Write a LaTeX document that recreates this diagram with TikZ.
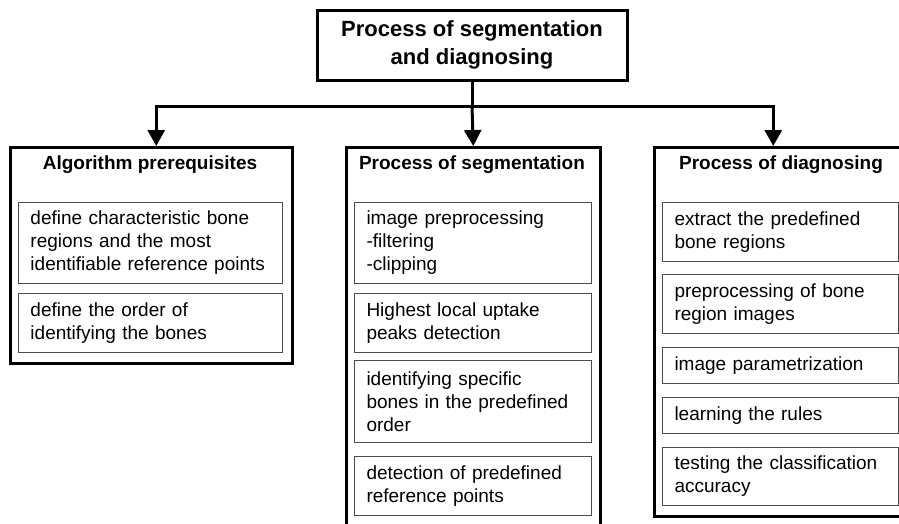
\documentclass[tikz,border=0pt]{standalone}
\usepackage{fontspec}
\setmainfont{Liberation Sans}
\usetikzlibrary{arrows.meta}
\newcommand{\Head}[1]{{\fontsize{19}{23}\selectfont\bfseries #1}}

\begin{document}
\begin{tikzpicture}[>={Triangle[width=17pt,length=16pt]}, x=1pt, y=-1pt,
  topbox/.style={draw, line width=3pt, minimum width=310pt, minimum height=70pt, align=center, font=\fontsize{22}{28}\selectfont\bfseries},
  panel/.style={draw, line width=2.5pt, anchor=north west, inner sep=0pt},
  itembox/.style={draw=black!70, line width=1pt, anchor=north west, align=left, inner xsep=12pt, inner ysep=0pt, font=\fontsize{19}{23}\selectfont},
  flow/.style={line width=3pt}]

\useasboundingbox (0,0) rectangle (899,523);
\clip (0,0) rectangle (899,523);

\node[topbox] (top) at (472,45) {Process of segmentation\\and diagnosing};

% the three panels
\node[panel, minimum width=282pt, minimum height=216pt] (prereq) at (9,146) {};
\node[panel, minimum width=254pt, minimum height=400pt] (segm) at (345,146) {};
\node[panel, minimum width=280pt, minimum height=369pt] (diag) at (653,146) {};

\draw(150,165) node (prereqhead) {\Head{Algorithm prerequisites}};
\draw(472,165) node (segmhead) {\Head{Process of segmentation}};
\draw(781,165) node (diaghead) {\Head{Process of diagnosing}};

% algorithm prerequisites
\node[itembox, text width=240pt, minimum height=81pt] (p1) at (18,202) {define characteristic bone\\regions and the most\\identifiable reference points};
\node[itembox, text width=240pt, minimum height=59pt] (p2) at (18,293) {define the order of\\identifying the bones};

% segmentation
\node[itembox, text width=213pt, minimum height=81pt] (s1) at (354,202) {image preprocessing\\-filtering\\-clipping};
\node[itembox, text width=213pt, minimum height=59pt] (s2) at (354,293) {Highest local uptake\\peaks detection};
\node[itembox, text width=213pt, minimum height=82pt] (s3) at (354,360) {identifying specific\\bones in the predefined\\order};
\node[itembox, text width=213pt, minimum height=59pt] (s4) at (354,456) {detection of predefined\\reference points};

% diagnosing
\node[itembox, text width=212pt, minimum height=59pt] (d1) at (662,202) {extract the predefined\\bone regions};
\node[itembox, text width=212pt, minimum height=59pt] (d2) at (662,274) {preprocessing of bone\\region images};
\node[itembox, text width=212pt, minimum height=36pt] (d3) at (662,347) {image parametrization};
\node[itembox, text width=212pt, minimum height=36pt] (d4) at (662,397) {learning the rules};
\node[itembox, text width=212pt, minimum height=58pt] (d5) at (662,447) {testing the classification\\accuracy};

\coordinate (fork) at (472,106);
\draw[flow] (top) -- (fork);
\draw[flow, ->] (fork) -| ([xshift=5pt]prereq.north);
\draw[flow, ->] (fork) -- (segm.north);
\draw[flow, ->] (fork) -| ([xshift=-21pt]diag.north);

\end{tikzpicture}
\end{document}
